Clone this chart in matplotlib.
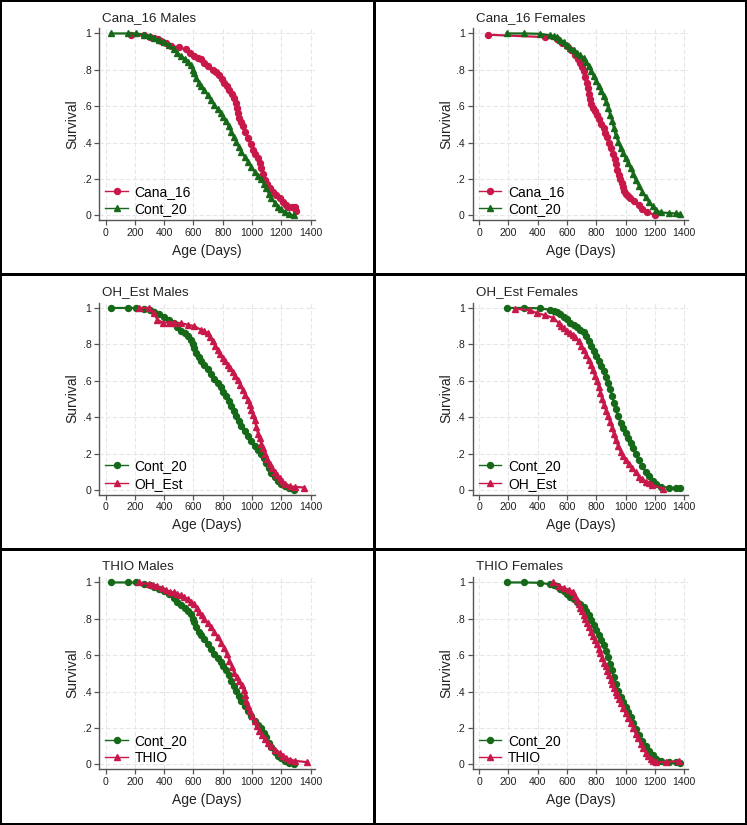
import matplotlib
matplotlib.use("Agg")
import matplotlib.pyplot as plt
from matplotlib.patches import Rectangle
from matplotlib.ticker import FuncFormatter

plt.rcParams['font.family'] = ['Liberation Sans', 'DejaVu Sans']

# Kaplan-Meier curves (age in days, survival fraction)
cont_m_age = [35, 150, 210, 265, 300, 331, 365, 400, 435, 469, 490, 514, 540, 560,
              580, 594, 605, 617, 635, 651, 675, 697, 720, 743, 765, 789, 805, 823,
              840, 857, 875, 892, 910, 926, 950, 971, 995, 1017, 1040, 1063, 1080,
              1097, 1115, 1131, 1155, 1177, 1200, 1223, 1255, 1285]
cont_m_surv = [1.0, 1.0, 1.0, 0.994, 0.988, 0.976, 0.965, 0.952, 0.935, 0.915, 0.895,
               0.875, 0.86, 0.844, 0.825, 0.801, 0.78, 0.755, 0.73, 0.710, 0.688,
               0.664, 0.636, 0.608, 0.586, 0.563, 0.54, 0.517, 0.49, 0.461, 0.433,
               0.406, 0.378, 0.351, 0.322, 0.296, 0.268, 0.241, 0.218, 0.200, 0.175,
               0.149, 0.12, 0.094, 0.07, 0.048, 0.033, 0.020, 0.008, 0.0]

cont_f_age = [188, 309, 417, 485, 510, 531, 555, 577, 600, 623, 645, 669, 690, 714,
              732, 749, 766, 783, 800, 818, 835, 852, 867, 882, 895, 909, 920, 932,
              950, 966, 985, 1001, 1018, 1035, 1052, 1069, 1092, 1115, 1138, 1161,
              1185, 1207, 1241, 1298, 1344, 1372]
cont_f_surv = [1.0, 1.0, 0.998, 0.99, 0.986, 0.98, 0.966, 0.952, 0.937, 0.92, 0.908,
               0.895, 0.88, 0.866, 0.845, 0.82, 0.792, 0.765, 0.738, 0.71, 0.682,
               0.654, 0.622, 0.59, 0.553, 0.517, 0.48, 0.443, 0.405, 0.37, 0.342,
               0.314, 0.287, 0.26, 0.228, 0.195, 0.162, 0.13, 0.1, 0.075, 0.05, 0.03,
               0.017, 0.013, 0.011, 0.009]

cana_m_age = [171, 265, 300, 330, 355, 377, 410, 446, 500, 549, 575, 606, 630, 651,
              675, 697, 731, 755, 777, 795, 812, 830, 846, 862, 880, 890, 898, 906,
              914, 925, 937, 955, 971, 990, 1006, 1023, 1040, 1052, 1063, 1075, 1086,
              1100, 1120, 1142, 1166, 1190, 1211, 1230, 1246, 1270, 1292, 1303]
cana_m_surv = [0.99, 0.99, 0.983, 0.975, 0.968, 0.96, 0.945, 0.93, 0.925, 0.912,
               0.895, 0.875, 0.866, 0.857, 0.838, 0.82, 0.80, 0.79, 0.774, 0.75,
               0.728, 0.71, 0.691, 0.668, 0.645, 0.618, 0.59, 0.562, 0.535, 0.512,
               0.489, 0.457, 0.425, 0.392, 0.36, 0.337, 0.314, 0.287, 0.259, 0.227,
               0.195, 0.172, 0.149, 0.13, 0.112, 0.094, 0.075, 0.06, 0.048, 0.048,
               0.048, 0.024]

cana_f_age = [62, 451, 531, 565, 600, 630, 657, 675, 692, 703, 714, 725, 735, 743,
              750, 758, 765, 778, 790, 805, 820, 835, 850, 862, 875, 888, 900, 912,
              925, 935, 945, 955, 965, 973, 980, 990, 1000, 1015, 1030, 1060, 1090,
              1110, 1150, 1202]
cana_f_surv = [0.993, 0.98, 0.967, 0.95, 0.93, 0.907, 0.884, 0.861, 0.838, 0.815,
               0.792, 0.76, 0.73, 0.70, 0.67, 0.64, 0.61, 0.592, 0.575, 0.553, 0.53,
               0.505, 0.48, 0.455, 0.43, 0.40, 0.37, 0.34, 0.31, 0.28, 0.25, 0.225,
               0.2, 0.178, 0.155, 0.137, 0.12, 0.107, 0.095, 0.08, 0.06, 0.035, 0.02,
               0.0]

oh_m_age = [229, 297, 331, 354, 389, 430, 469, 514, 560, 606, 651, 675, 697, 715,
            731, 748, 766, 783, 800, 817, 834, 852, 869, 886, 903, 920, 937, 955,
            972, 983, 994, 1006, 1017, 1029, 1040, 1052, 1063, 1075, 1086, 1103,
            1120, 1137, 1154, 1170, 1189, 1205, 1223, 1257, 1292, 1356]
oh_m_surv = [1.0, 1.0, 0.97, 0.935, 0.92, 0.92, 0.92, 0.917, 0.908, 0.9, 0.88, 0.872,
             0.862, 0.84, 0.816, 0.793, 0.77, 0.747, 0.724, 0.706, 0.688, 0.669,
             0.65, 0.628, 0.605, 0.578, 0.55, 0.522, 0.494, 0.467, 0.44, 0.412,
             0.384, 0.347, 0.31, 0.283, 0.255, 0.228, 0.2, 0.172, 0.145, 0.122, 0.1,
             0.081, 0.063, 0.049, 0.035, 0.02, 0.017, 0.013]

oh_f_age = [245, 348, 394, 451, 508, 543, 560, 577, 600, 623, 640, 657, 680, 697,
            714, 732, 749, 762, 776, 791, 806, 818, 829, 840, 852, 867, 882, 895,
            909, 920, 932, 949, 966, 983, 1001, 1024, 1047, 1070, 1092, 1115, 1138,
            1160, 1184, 1253]
oh_f_surv = [0.996, 0.987, 0.972, 0.96, 0.945, 0.917, 0.903, 0.89, 0.876, 0.862,
             0.851, 0.84, 0.817, 0.793, 0.77, 0.743, 0.716, 0.688, 0.66, 0.628,
             0.596, 0.564, 0.532, 0.50, 0.468, 0.436, 0.404, 0.372, 0.34, 0.307,
             0.275, 0.243, 0.211, 0.188, 0.165, 0.142, 0.119, 0.096, 0.073, 0.06,
             0.046, 0.037, 0.028, 0.006]

thio_m_age = [229, 297, 325, 354, 383, 411, 440, 469, 490, 514, 537, 560, 583, 606,
              623, 640, 657, 674, 697, 720, 743, 766, 790, 811, 829, 846, 863, 880,
              897, 914, 930, 944, 952, 960, 972, 983, 1000, 1017, 1034, 1051, 1068,
              1086, 1108, 1131, 1160, 1189, 1212, 1234, 1262, 1292, 1372]
thio_m_surv = [1.0, 0.99, 0.984, 0.978, 0.967, 0.956, 0.95, 0.945, 0.938, 0.93, 0.92,
               0.91, 0.895, 0.88, 0.86, 0.84, 0.82, 0.8, 0.778, 0.757, 0.728, 0.7,
               0.67, 0.64, 0.605, 0.57, 0.535, 0.5, 0.48, 0.46, 0.435, 0.41, 0.38,
               0.35, 0.322, 0.294, 0.267, 0.24, 0.212, 0.184, 0.161, 0.138, 0.119,
               0.1, 0.081, 0.063, 0.049, 0.035, 0.027, 0.02, 0.013]

thio_f_age = [508, 543, 577, 611, 640, 657, 668, 680, 692, 703, 715, 726, 738, 749,
              762, 776, 791, 806, 818, 829, 840, 852, 864, 875, 887, 898, 910, 921,
              932, 943, 955, 966, 983, 1001, 1018, 1035, 1052, 1069, 1087, 1104,
              1121, 1138, 1155, 1172, 1190, 1207, 1276, 1362]
thio_f_surv = [1.0, 0.98, 0.97, 0.96, 0.95, 0.925, 0.902, 0.88, 0.862, 0.845, 0.822,
               0.8, 0.777, 0.753, 0.73, 0.706, 0.683, 0.66, 0.635, 0.61, 0.585,
               0.56, 0.54, 0.515, 0.49, 0.465, 0.44, 0.42, 0.40, 0.38, 0.36, 0.34,
               0.31, 0.28, 0.255, 0.23, 0.2, 0.17, 0.145, 0.115, 0.09, 0.065, 0.045,
               0.03, 0.018, 0.013, 0.013, 0.018]

RED = '#C8184A'
GREEN = '#17691A'

# (title, [(label, ages, survival, colour, marker), ...]) in legend order
panels = [
    ("Cana_16 Males", [("Cana_16", cana_m_age, cana_m_surv, RED, 'o'),
                       ("Cont_20", cont_m_age, cont_m_surv, GREEN, '^')]),
    ("Cana_16 Females", [("Cana_16", cana_f_age, cana_f_surv, RED, 'o'),
                         ("Cont_20", cont_f_age, cont_f_surv, GREEN, '^')]),
    ("OH_Est Males", [("Cont_20", cont_m_age, cont_m_surv, GREEN, 'o'),
                      ("OH_Est", oh_m_age, oh_m_surv, RED, '^')]),
    ("OH_Est Females", [("Cont_20", cont_f_age, cont_f_surv, GREEN, 'o'),
                        ("OH_Est", oh_f_age, oh_f_surv, RED, '^')]),
    ("THIO Males", [("Cont_20", cont_m_age, cont_m_surv, GREEN, 'o'),
                    ("THIO", thio_m_age, thio_m_surv, RED, '^')]),
    ("THIO Females", [("Cont_20", cont_f_age, cont_f_surv, GREEN, 'o'),
                      ("THIO", thio_f_age, thio_f_surv, RED, '^')]),
]

W, H = 747, 825
fig = plt.figure(figsize=(W / 100, H / 100), dpi=100, facecolor='black')

# white panel cells separated by black frame lines
col_x = [(2, 373), (376, 745)]
row_y = [(2, 273), (276, 548), (551, 823)]
for (y0, y1) in row_y:
    for (x0, x1) in col_x:
        fig.add_artist(Rectangle((x0 / W, 1 - y1 / H), (x1 - x0) / W, (y1 - y0) / H,
                                 transform=fig.transFigure, facecolor='white',
                                 edgecolor='none', zorder=0))

yfmt = FuncFormatter(lambda v, p: '0' if v == 0 else ('1' if v == 1 else ('%.1f' % v)[1:]))

for i, (title, series) in enumerate(panels):
    r, c = divmod(i, 2)
    left_px = 99 + 373.5 * c
    top_px = 28 + 274.5 * r
    ax = fig.add_axes([left_px / W, 1 - (top_px + 192) / H, 216 / W, 192 / H])
    ax.set_facecolor('white')
    for label, age, surv, col, mk in series:
        ax.plot(age, surv, color=col, lw=1.6, marker=mk, ms=4.3, mec=col, mfc=col,
                label=label)
    ax.set_xlim(-45, 1430)
    ax.set_ylim(-0.025, 1.03)
    ax.set_xticks(range(0, 1401, 200))
    ax.set_yticks([0, 0.2, 0.4, 0.6, 0.8, 1.0])
    ax.yaxis.set_major_formatter(yfmt)
    ax.grid(True, color='#e6e6e6', lw=0.8, ls=(0, (4, 2)))
    ax.set_axisbelow(True)
    for s in ['top', 'right']:
        ax.spines[s].set_visible(False)
    for s in ['left', 'bottom']:
        ax.spines[s].set_color('#555555')
        ax.spines[s].set_linewidth(1.0)
    ax.tick_params(colors='#555555', labelcolor='#222222', labelsize=7.6,
                   length=3.5, width=0.9, pad=2)
    ax.set_xlabel('Age (Days)', fontsize=10, color='#222222')
    ax.set_ylabel('Survival', fontsize=10, color='#222222')
    ax.xaxis.set_label_coords(0.5, -0.125)
    ax.yaxis.set_label_coords(-0.09, 0.5)
    ax.text(0.014, 1.052, title, transform=ax.transAxes, fontsize=9.6,
            color='#222222', ha='left', va='center')
    leg = ax.legend(loc='lower left', bbox_to_anchor=(0.03, 0.02), frameon=False,
                    fontsize=10, handlelength=1.6, handletextpad=0.5,
                    labelspacing=0.25, borderpad=0, borderaxespad=0, numpoints=1)
    for h in leg.legend_handles:
        h.set_linewidth(1.0)

fig.savefig('out.png', dpi=100, facecolor='black')
